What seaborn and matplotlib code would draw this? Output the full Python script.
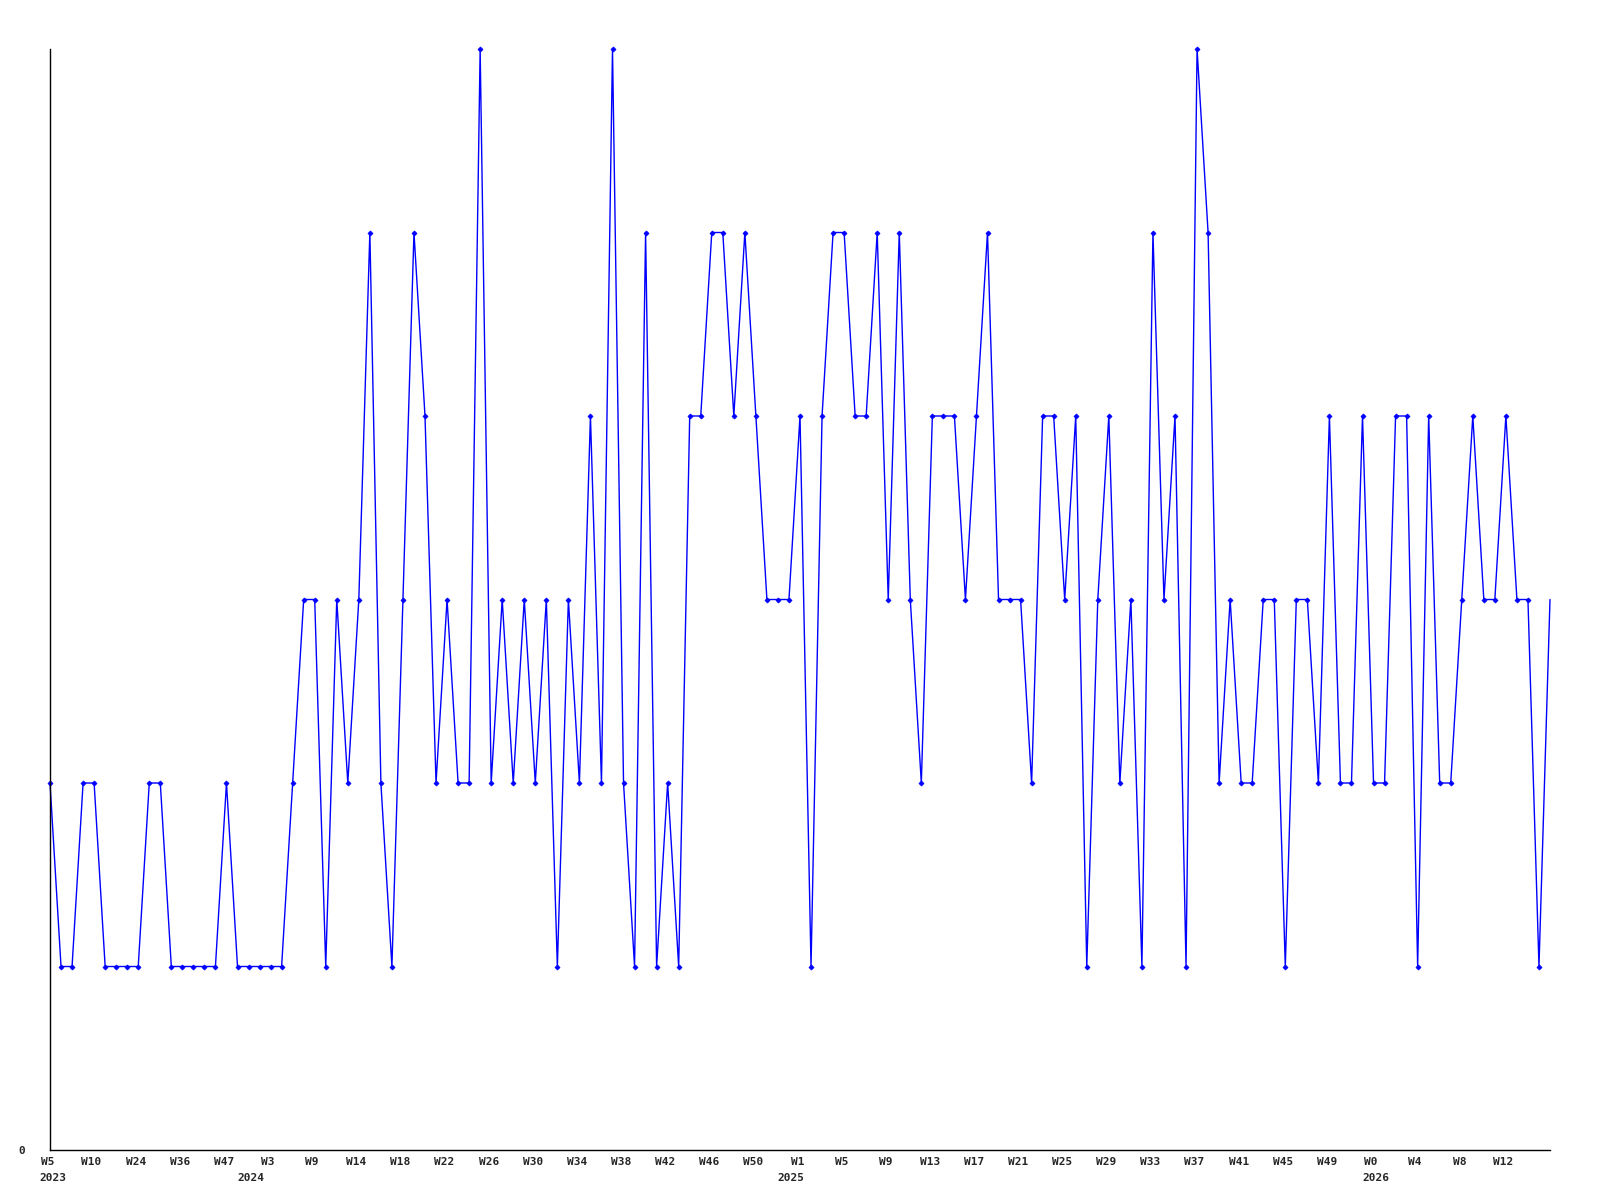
import numpy as np
import pandas as pd
import seaborn as sns
import matplotlib.pyplot as plt
from matplotlib import transforms

# weekly counts, one point per week
values = [2, 1, 1, 2, 2, 1, 1, 1, 1, 2, 2, 1, 1, 1, 1, 1, 2, 1, 1, 1,
          1, 1, 2, 3, 3, 1, 3, 2, 3, 5, 2, 1, 3, 5, 4, 2, 3, 2, 2, 6,
          2, 3, 2, 3, 2, 3, 1, 3, 2, 4, 2, 6, 2, 1, 5, 1, 2, 1, 4, 4,
          5, 5, 4, 5, 4, 3, 3, 3, 4, 1, 4, 5, 5, 4, 4, 5, 3, 5, 3, 2,
          4, 4, 4, 3, 4, 5, 3, 3, 3, 2, 4, 4, 3, 4, 1, 3, 4, 2, 3, 1,
          5, 3, 4, 1, 6, 5, 2, 3, 2, 2, 3, 3, 1, 3, 3, 2, 4, 2, 2, 4,
          2, 2, 4, 4, 1, 4, 2, 2, 3, 4, 3, 3, 4, 3, 3, 1, 3]

week_labels = ['W5', 'W10', 'W24', 'W36', 'W47', 'W3', 'W9', 'W14', 'W18',
               'W22', 'W26', 'W30', 'W34', 'W38', 'W42', 'W46', 'W50', 'W1',
               'W5', 'W9', 'W13', 'W17', 'W21', 'W25', 'W29', 'W33', 'W37',
               'W41', 'W45', 'W49', 'W0', 'W4', 'W8', 'W12']
years = ['2023', '2024', '2025', '2026']
year_pos = [0.3, 18.25, 67.15, 120.2]

df = pd.DataFrame({'idx': np.arange(len(values)), 'count': values})

sns.set_style('white')
plt.rcParams['font.family'] = ['DejaVu Sans Mono']

fig = plt.figure(figsize=(16, 12), dpi=100)
ax = fig.add_axes([50 / 1600, 50 / 1200, 1500 / 1600, 1101 / 1200])

sns.lineplot(data=df, x='idx', y='count', ax=ax, color='#0000ff', lw=1,
             marker='D', markersize=2.6, markeredgewidth=0.5,
             markeredgecolor='#0000ff', markevery=list(range(len(values) - 1)),
             clip_on=False)

ax.set_xlim(0, len(values) - 1)
ax.set_ylim(0, 6)

# axes: only left and bottom lines
for s in ['top', 'right']:
    ax.spines[s].set_visible(False)
for s in ['left', 'bottom']:
    ax.spines[s].set_color('black')
    ax.spines[s].set_linewidth(1)

ax.set_yticks([0])
ax.set_yticklabels(['0'], fontsize=8, fontweight='bold')
ax.tick_params(axis='y', length=0, pad=18)

ax.set_xticks(range(0, len(week_labels) * 4, 4))
ax.set_xticklabels(week_labels, fontsize=8, fontweight='bold')
ax.tick_params(axis='x', length=0, pad=5)
shift = transforms.ScaledTranslation(-0.025, 0, fig.dpi_scale_trans)
for lab in ax.get_xticklabels():
    lab.set_transform(lab.get_transform() + shift)

trans = transforms.blended_transform_factory(ax.transData, ax.transAxes)
for y, p in zip(years, year_pos):
    ax.text(p, -0.0205, y, transform=trans, ha='center', va='top',
            fontsize=8, fontweight='bold')

ax.set_xlabel('')
ax.set_ylabel('')
ax.grid(False)

fig.savefig('out.png', dpi=100)
